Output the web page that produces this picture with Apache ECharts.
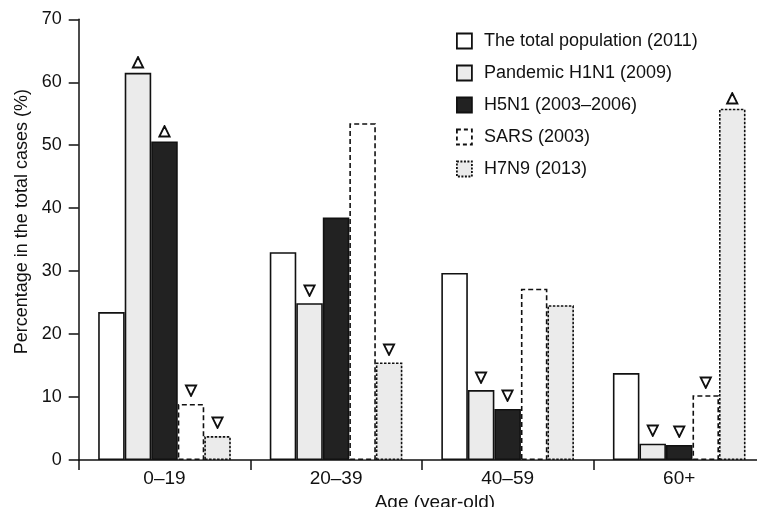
<!DOCTYPE html>
<html>
<head>
<meta charset="utf-8">
<script src="https://cdn.jsdelivr.net/npm/echarts@6/dist/echarts.min.js"></script>
<style>
html,body{margin:0;padding:0;background:#fff;}
#chart{width:757px;height:507px;}
</style>
</head>
<body>
<div id="chart"></div>
<script>
var categories = ['0–19', '20–39', '40–59', '60+'];
var totalPop = [23.5, 33.0, 29.7, 13.8];
var h1n1 = [61.5, 24.9, 11.1, 2.6];
var h5n1 = [50.6, 38.5, 8.1, 2.4];
var sars = [8.9, 53.5, 27.2, 10.3];
var h7n9 = [3.8, 15.5, 24.6, 55.8];
var totalMarks = ['', '', '', ''];
var h1n1Marks = ['up', 'down', 'down', 'down'];
var h5n1Marks = ['up', '', 'down', 'down'];
var sarsMarks = ['down', '', '', 'down'];
var h7n9Marks = ['down', 'down', '', 'up'];
var yTicks = [0, 10, 20, 30, 40, 50, 60, 70];

var FONT = 'Liberation Sans, Arial, Helvetica, sans-serif';

function withMarks(values, marks) {
  return values.map(function (v, i) {
    var m = marks[i];
    if (!m) return { value: v, label: { show: false } };
    return {
      value: v,
      label: {
        show: true,
        position: 'top',
        distance: m === 'up' ? 3 : 5,
        formatter: m === 'up' ? '△' : '▽',
        fontFamily: 'DejaVu Sans',
        fontSize: 15,
        color: '#111',
        textBorderColor: '#111',
        textBorderWidth: 1.1
      }
    };
  });
}

function makeSeries(name, values, marks, fill, borderType) {
  return {
    name: name,
    type: 'bar',
    barGap: '0%',
    barCategoryGap: '22.7%',
    data: withMarks(values, marks),
    itemStyle: {
      color: fill,
      borderColor: '#111',
      borderWidth: 1.6,
      borderType: borderType
    },
    emphasis: { disabled: true }
  };
}

var legendNames = ['The total population (2011)', 'Pandemic H1N1 (2009)', 'H5N1 (2003–2006)', 'SARS (2003)', 'H7N9 (2013)'];
var legendBorders = ['solid', 'solid', 'solid', [4, 3], [2, 1.5]];

var chart = echarts.init(document.getElementById('chart'), null, { renderer: 'canvas' });
chart.setOption({
  animation: false,
  backgroundColor: '#fff',
  textStyle: { fontFamily: FONT },
  grid: { left: 78.7, top: 19.3, bottom: 47, right: -8, containLabel: false, outerBoundsMode: 'none' },
  legend: {
    orient: 'vertical',
    left: 451,
    top: 27,
    icon: 'rect',
    itemWidth: 15,
    itemHeight: 15,
    itemGap: 14,
    textStyle: { fontFamily: FONT, fontSize: 18, lineHeight: 18, color: '#111', padding: [0, 0, 0, 7] },
    data: legendNames.map(function (n, i) {
      return { name: n, icon: 'rect', itemStyle: { borderColor: '#111', borderWidth: 1.8, borderType: legendBorders[i] } };
    })
  },
  xAxis: {
    type: 'category',
    data: categories,
    name: 'Age (year-old)',
    nameLocation: 'middle',
    nameGap: 26,
    nameTextStyle: { fontFamily: FONT, fontSize: 19, color: '#111', padding: [0, 0, 0, 26] },
    axisLine: { lineStyle: { color: '#111', width: 1.5 } },
    axisTick: { show: true, length: 10, lineStyle: { color: '#111', width: 1.5 } },
    axisLabel: { fontFamily: FONT, fontSize: 19, color: '#111', margin: 9 },
    splitLine: { show: false }
  },
  yAxis: {
    type: 'value',
    min: yTicks[0],
    max: yTicks[yTicks.length - 1],
    interval: 10,
    name: 'Percentage in the total cases (%)',
    nameLocation: 'middle',
    nameGap: 48,
    nameTextStyle: { fontFamily: FONT, fontSize: 18, color: '#111', padding: [0, 0, 0, 36] },
    axisLine: { show: true, lineStyle: { color: '#111', width: 1.5 } },
    axisTick: { show: true, length: 10, lineStyle: { color: '#111', width: 1.5 } },
    axisLabel: { fontFamily: FONT, fontSize: 18, color: '#111', margin: 17 },
    splitLine: { show: false }
  },
  series: [
    makeSeries(legendNames[0], totalPop, totalMarks, '#ffffff', 'solid'),
    makeSeries(legendNames[1], h1n1, h1n1Marks, '#ebebeb', 'solid'),
    makeSeries(legendNames[2], h5n1, h5n1Marks, '#222222', 'solid'),
    makeSeries(legendNames[3], sars, sarsMarks, '#ffffff', [5, 3]),
    makeSeries(legendNames[4], h7n9, h7n9Marks, '#ebebeb', [2.5, 1.5])
  ]
});
</script>
</body>
</html>
